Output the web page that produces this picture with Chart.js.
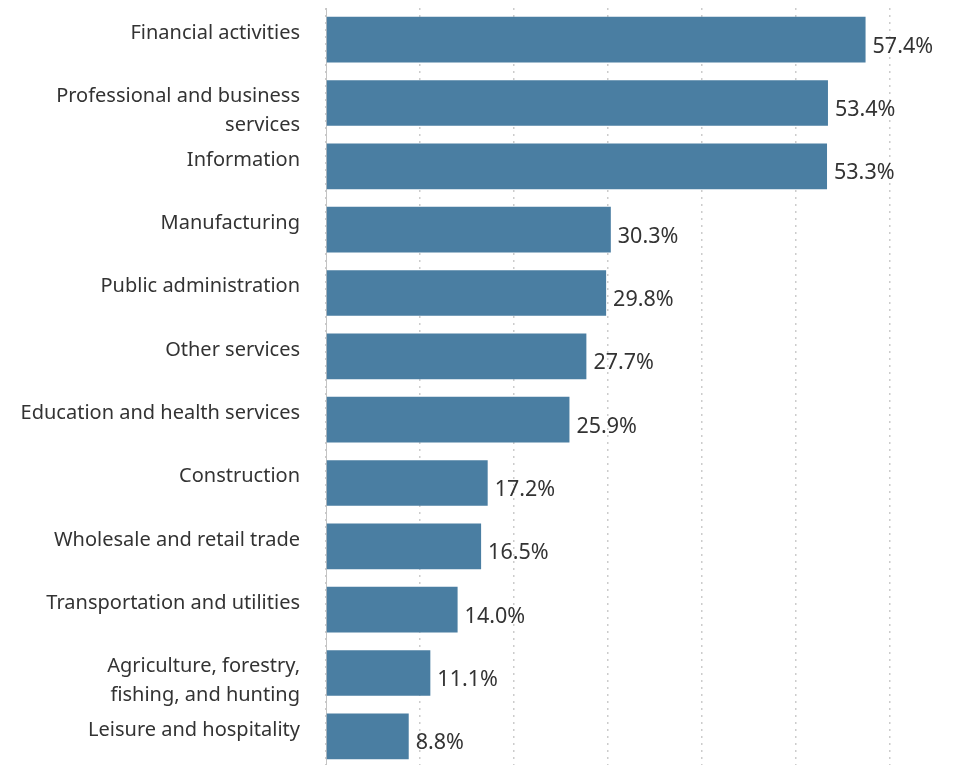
<!DOCTYPE html>
<html>
<head>
<meta charset="utf-8">
<script src="https://cdn.jsdelivr.net/npm/chart.js@4"></script>
<style>
  html, body { margin: 0; padding: 0; background: #fff; overflow: hidden; }
  #wrap { width: 980px; height: 768px; }
</style>
</head>
<body>
<div id="wrap"><canvas id="chart"></canvas></div>
<script>
const categories = [
  'Financial activities',
  ['Professional and business', 'services'],
  'Information',
  'Manufacturing',
  'Public administration',
  'Other services',
  'Education and health services',
  'Construction',
  'Wholesale and retail trade',
  'Transportation and utilities',
  ['Agriculture, forestry,', 'fishing, and hunting'],
  'Leisure and hospitality'
];
const shares = [57.4, 53.4, 53.3, 30.3, 29.8, 27.7, 25.9, 17.2, 16.5, 14.0, 11.1, 8.8];
const xTicks = [0, 10, 20, 30, 40, 50, 60];

const textColor = '#333';
const font = "'Noto Sans', sans-serif";

// value labels at the end of each bar
const valueLabels = {
  id: 'valueLabels',
  afterDatasetsDraw(chart) {
    const { ctx } = chart;
    const meta = chart.getDatasetMeta(0);
    ctx.save();
    ctx.font = '21.5px ' + font;
    ctx.fillStyle = textColor;
    ctx.textAlign = 'left';
    ctx.textBaseline = 'middle';
    meta.data.forEach((bar, i) => {
      ctx.fillText(shares[i].toFixed(1) + '%', bar.x + 7, bar.y + 7);
    });
    ctx.restore();
  }
};

new Chart(document.getElementById('chart'), {
  type: 'bar',
  data: {
    labels: categories,
    datasets: [{
      data: shares,
      backgroundColor: '#4a7ea2',
      borderWidth: 0,
      barPercentage: 0.9,
      categoryPercentage: 0.8
    }]
  },
  options: {
    indexAxis: 'y',
    responsive: true,
    maintainAspectRatio: false,
    animation: false,
    layout: { autoPadding: false, padding: { left: 0, right: 90, top: 8, bottom: 0 } },
    scales: {
      x: {
        min: 0,
        max: 60,
        afterBuildTicks: (axis) => { axis.ticks = xTicks.map(v => ({ value: v })); },
        afterFit: (axis) => { axis.height = 0; axis.paddingLeft = 0; axis.paddingRight = 0; },
        ticks: { display: false },
        grid: { color: '#cccccc', lineWidth: 1.5, drawTicks: false },
        border: { display: false, dash: [2, 5] }
      },
      y: {
        afterFit: (axis) => {
          axis.width = 326;
          axis.paddingTop = 0;
          axis.paddingBottom = 0;
        },
        grid: { display: false, drawTicks: false },
        border: { display: true, color: '#c4c4c4', width: 1 },
        ticks: {
          color: textColor,
          padding: 26,
          labelOffset: 8,
          font: { family: font, size: 20, lineHeight: '29px' },
          callback: (v, i) => Array.isArray(categories[i]) ? categories[i] : [categories[i], '']
        }
      }
    },
    plugins: {
      legend: { display: false },
      tooltip: { enabled: false }
    }
  },
  plugins: [valueLabels]
});
</script>
</body>
</html>
